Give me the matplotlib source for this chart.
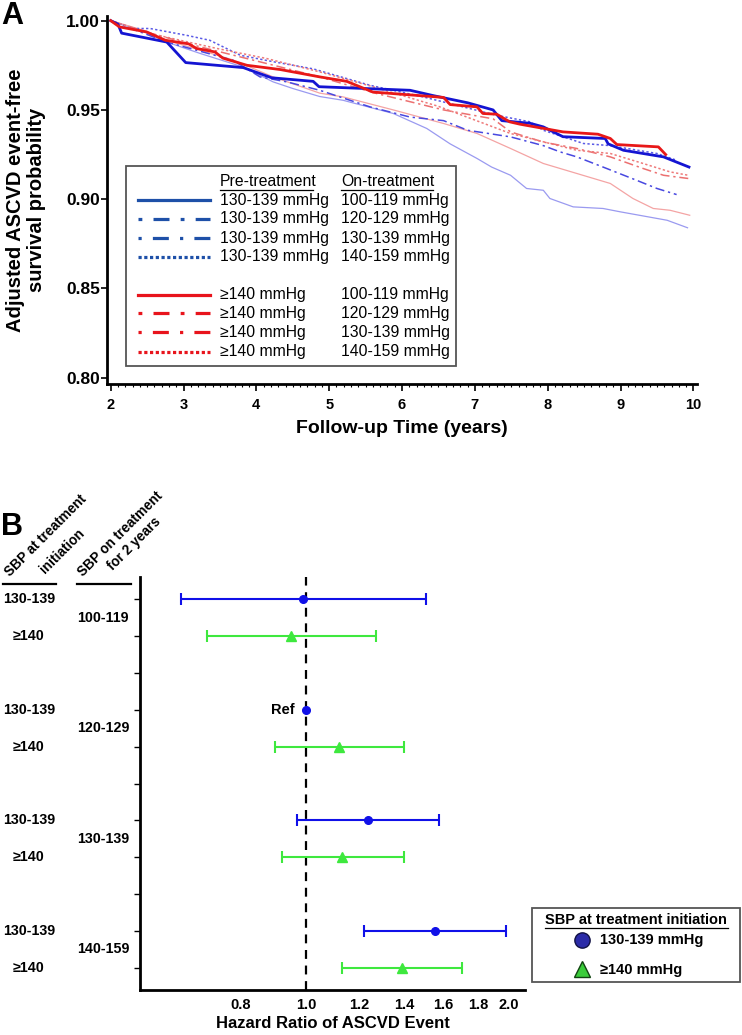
import numpy as np
import matplotlib
matplotlib.use("Agg")
import matplotlib.pyplot as plt
from matplotlib.lines import Line2D
from matplotlib.patches import Rectangle
from matplotlib.transforms import blended_transform_factory

plt.rcParams['font.family'] = ['Liberation Sans', 'DejaVu Sans']

# ---- panel A: adjusted survival curves (years, probability) ----
t_blue_100 = [2.0, 2.1, 2.15, 2.77, 3.03, 3.82, 4.21, 4.78, 4.86, 6.11, 6.43, 6.9, 7.25, 7.37, 7.76, 7.94, 8.21, 8.79, 8.83, 9.04, 9.59, 9.94]
s_blue_100 = [1.0, 0.998, 0.993, 0.988, 0.9765, 0.9737, 0.968, 0.966, 0.963, 0.961, 0.958, 0.954, 0.950, 0.944, 0.9425, 0.9405, 0.935, 0.934, 0.931, 0.9274, 0.9237, 0.918]
t_blue_120 = [2.0, 2.5, 2.77, 3.23, 3.82, 4.23, 4.5, 4.87, 5.19, 5.88, 6.34, 6.66, 7.03, 7.23, 7.49, 7.71, 7.94, 8.03, 8.35, 8.76, 9.0, 9.64, 9.92]
s_blue_120 = [1.0, 0.993, 0.988, 0.9816, 0.974, 0.9657, 0.962, 0.9575, 0.9554, 0.948, 0.9396, 0.931, 0.9228, 0.918, 0.9134, 0.906, 0.905, 0.9004, 0.8957, 0.8948, 0.8929, 0.8882, 0.884]
t_blue_130 = [2.0, 2.77, 3.68, 4.05, 4.42, 4.87, 5.56, 6.11, 6.57, 6.9, 7.49, 7.94, 8.17, 8.4, 8.76, 9.22, 9.5, 9.77]
s_blue_130 = [1.0, 0.988, 0.9778, 0.9685, 0.9657, 0.961, 0.9517, 0.946, 0.944, 0.9386, 0.9349, 0.930, 0.9265, 0.9237, 0.918, 0.9106, 0.906, 0.9026]
t_blue_140 = [2.0, 2.31, 2.54, 3.04, 3.36, 3.78, 4.23, 4.78, 5.56, 6.29, 7.3, 7.76, 7.94, 8.49, 8.86, 9.5, 9.77]
s_blue_140 = [1.0, 0.9956, 0.9956, 0.9918, 0.989, 0.9806, 0.977, 0.973, 0.9638, 0.9573, 0.947, 0.9433, 0.9386, 0.9312, 0.930, 0.9256, 0.9218]

t_red_100 = [2.0, 2.12, 2.49, 2.75, 3.07, 3.18, 3.43, 3.54, 3.87, 4.33, 4.87, 5.24, 5.6, 6.57, 6.66, 7.03, 7.11, 7.3, 7.48, 7.62, 8.21, 8.69, 8.86, 8.95, 9.52, 9.62]
s_red_100 = [1.0, 0.9965, 0.9937, 0.989, 0.987, 0.9844, 0.9825, 0.979, 0.975, 0.9726, 0.9685, 0.966, 0.960, 0.957, 0.953, 0.9517, 0.948, 0.9476, 0.9433, 0.942, 0.9377, 0.9364, 0.934, 0.9306, 0.9293, 0.925]
t_red_120 = [2.0, 2.5, 2.77, 3.68, 4.23, 4.87, 5.19, 5.88, 6.57, 7.03, 7.49, 7.94, 8.4, 8.86, 9.17, 9.45, 9.68, 9.95]
s_red_120 = [1.0, 0.994, 0.989, 0.978, 0.9685, 0.9594, 0.9573, 0.950, 0.9424, 0.9368, 0.9284, 0.920, 0.9144, 0.9088, 0.9004, 0.8948, 0.8938, 0.891]
t_red_130 = [2.0, 2.5, 3.23, 4.14, 4.87, 5.65, 6.57, 7.25, 7.49, 7.94, 8.4, 8.86, 9.31, 9.59, 9.93]
s_red_130 = [1.0, 0.9935, 0.9853, 0.976, 0.9685, 0.9592, 0.950, 0.945, 0.9377, 0.932, 0.9284, 0.9237, 0.9172, 0.9134, 0.9116]
t_red_140 = [2.0, 2.54, 3.46, 4.14, 4.87, 5.6, 6.5, 7.49, 8.4, 8.86, 9.31, 9.68, 9.93]
s_red_140 = [1.0, 0.9928, 0.9844, 0.9788, 0.9713, 0.963, 0.952, 0.9368, 0.9274, 0.9256, 0.920, 0.9153, 0.9134]

pre_labels = ["130-139 mmHg"] * 4 + ["\u2265140 mmHg"] * 4
on_labels = ["100-119 mmHg", "120-129 mmHg", "130-139 mmHg", "140-159 mmHg"] * 2

# ---- panel B: hazard ratios ----
on_groups = ["100-119", "120-129", "130-139", "140-159"]
blue_hr = [0.989, 1.0, 1.237, 1.553]
blue_lo = [0.652, np.nan, 0.969, 1.22]
blue_hi = [1.505, np.nan, 1.574, 1.979]
green_hr = [0.951, 1.12, 1.129, 1.388]
green_lo = [0.713, 0.90, 0.921, 1.131]
green_hi = [1.268, 1.396, 1.396, 1.703]

W, H = 742, 1035
def fx(x):
    return x / W
def fy(y):
    return 1 - y / H

fig = plt.figure(figsize=(W / 100, H / 100), dpi=100)

# ================= panel A =================
axA = fig.add_axes([fx(106.7), fy(384), fx(697) - fx(106.7), fy(16) - fy(384)])
curves = [
    (t_blue_120, s_blue_120, '#9a9af0', '-', 0.9),
    (t_red_120, s_red_120, '#f4a4a4', '-', 0.9),
    (t_blue_130, s_blue_130, '#4848e0', (0, (6, 2.5, 1.5, 2.5)), 1.1),
    (t_red_130, s_red_130, '#ec7070', (0, (6, 2.5, 1.5, 2.5)), 1.1),
    (t_blue_140, s_blue_140, '#5a5ae6', (0, (1.5, 1.5)), 1.1),
    (t_red_140, s_red_140, '#ee7a7a', (0, (1.5, 1.5)), 1.1),
    (t_blue_100, s_blue_100, '#1414d2', '-', 2.0),
    (t_red_100, s_red_100, '#e81818', '-', 2.0),
]
for t, s, c, ls, lw in curves:
    axA.plot(t, s, color=c, linestyle=ls, linewidth=lw)

axA.set_xlim(1.945, 10.05)
axA.set_ylim(0.7965, 1.0026)
axA.set_xticks(range(2, 11))
axA.set_xticklabels([str(i) for i in range(2, 11)], fontweight='bold', fontsize=10.5)
axA.set_xticks(np.arange(2, 10.01, 0.1), minor=True)
axA.set_yticks([0.80, 0.85, 0.90, 0.95, 1.00])
axA.set_yticklabels(["0.80", "0.85", "0.90", "0.95", "1.00"], fontweight='bold', fontsize=12.5)
axA.tick_params(axis='x', which='major', length=5, width=1.2, pad=5)
axA.tick_params(axis='x', which='minor', length=2.5, width=0.8)
axA.tick_params(axis='y', which='major', length=4, width=1.2, pad=1)
for sp in ['top', 'right']:
    axA.spines[sp].set_visible(False)
for sp in ['left', 'bottom']:
    axA.spines[sp].set_linewidth(2)
axA.set_xlabel("Follow-up Time (years)", fontweight='bold', fontsize=14, labelpad=6)
fig.text(fx(26), fy(200), "Adjusted ASCVD event-free\nsurvival probability", rotation=90,
         ha='center', va='center', fontweight='bold', fontsize=14.5, multialignment='center',
         linespacing=1.15)
fig.text(fx(1), fy(16), "A", fontweight='bold', fontsize=22, ha='left', va='center')

# legend A (drawn by hand to get the two text columns)
fig.add_artist(Rectangle((fx(126), fy(366)), fx(456) - fx(126), fy(166) - fy(366),
                         transform=fig.transFigure, fill=False, edgecolor='#555555', linewidth=1.3))
fig.text(fx(220), fy(182), "Pre-treatment", fontsize=11.3, ha='left', va='center')
fig.text(fx(341), fy(182), "On-treatment", fontsize=11.3, ha='left', va='center')
fig.add_artist(Line2D([fx(220), fx(313)], [fy(190), fy(190)], transform=fig.transFigure, color='black', lw=0.9))
fig.add_artist(Line2D([fx(341), fx(433)], [fy(190), fy(190)], transform=fig.transFigure, color='black', lw=0.9))
leg_rows = [200, 219, 238.3, 256.7, 295, 313.3, 332.3, 351.7]
leg_styles = ['-', (0, (1.2, 3.5, 5, 3.5)), (0, (1, 3.5, 5, 3.5)), (0, (1, 0.8))] * 2
leg_cols = ['#1e50a8'] * 4 + ['#e8141c'] * 4
for i, yrow in enumerate(leg_rows):
    fig.add_artist(Line2D([fx(138), fx(210)], [fy(yrow), fy(yrow)], transform=fig.transFigure,
                          color=leg_cols[i], linestyle=leg_styles[i], linewidth=2.3))
    fig.text(fx(220), fy(yrow), pre_labels[i], fontsize=11.3, ha='left', va='center')
    fig.text(fx(341), fy(yrow), on_labels[i], fontsize=11.3, ha='left', va='center')

# ================= panel B =================
axB = fig.add_axes([fx(140), fy(990), fx(525) - fx(140), fy(577) - fy(990)])
blue_rows = [0, 3, 6, 9]
green_rows = [1, 4, 7, 10]
blue_col = '#1010e8'
green_col = '#3ee83e'

axB.axvline(1.0, color='black', linestyle=(0, (4, 3)), linewidth=1.6, zorder=1)
for i in range(4):
    if np.isnan(blue_lo[i]):
        axB.plot([blue_hr[i]], [blue_rows[i]], 'o', color=blue_col, markersize=5.5, zorder=3)
        axB.annotate("Ref", (blue_hr[i], blue_rows[i]), xytext=(-11, 0), textcoords='offset pixels',
                     ha='right', va='center', fontweight='bold', fontsize=10.5)
    else:
        axB.errorbar([blue_hr[i]], [blue_rows[i]],
                     xerr=[[blue_hr[i] - blue_lo[i]], [blue_hi[i] - blue_hr[i]]],
                     fmt='o', color=blue_col, markersize=5.5, elinewidth=1.5, capsize=4.5, capthick=1.5, zorder=3)
    axB.errorbar([green_hr[i]], [green_rows[i]],
                 xerr=[[green_hr[i] - green_lo[i]], [green_hi[i] - green_hr[i]]],
                 fmt='^', color=green_col, markersize=6.5, elinewidth=1.5, capsize=4.5, capthick=1.5, zorder=3)

axB.set_xscale('log')
axB.set_xlim(0.5675, 2.112)
xt = [0.8, 1.0, 1.2, 1.4, 1.6, 1.8, 2.0]
axB.set_xticks(xt)
axB.set_xticklabels(["%.1f" % v for v in xt], fontweight='bold', fontsize=10.5)
axB.xaxis.set_minor_locator(matplotlib.ticker.NullLocator())
axB.tick_params(axis='x', length=0, pad=6)
axB.set_ylim(10.6, -0.6)
axB.set_yticks(range(11))
axB.set_yticklabels([])
axB.tick_params(axis='y', length=4, width=1, direction='out')
for sp in ['top', 'right']:
    axB.spines[sp].set_visible(False)
for sp in ['left', 'bottom']:
    axB.spines[sp].set_linewidth(2)
axB.set_xlabel("Hazard Ratio of ASCVD Event", fontweight='bold', fontsize=12, labelpad=3)

fig.text(fx(1), fy(527), "B", fontweight='bold', fontsize=22, ha='left', va='center')

# row labels left of the axis
tr = blended_transform_factory(fig.transFigure, axB.transData)
for i in range(4):
    fig.text(fx(29), blue_rows[i], "130-139", transform=tr, ha='center', va='center', fontweight='bold', fontsize=10.3)
    fig.text(fx(29), green_rows[i], "\u2265140", transform=tr, ha='center', va='center', fontweight='bold', fontsize=10.3)
    fig.text(fx(103), blue_rows[i] + 0.5, on_groups[i], transform=tr, ha='center', va='center', fontweight='bold', fontsize=10.3)

# rotated column headers
hdr = [("SBP at treatment", 10, 577), ("initiation", 45, 574),
       ("SBP on treatment", 83, 577), ("for 2 years", 113, 571)]
for txt, x0, y0 in hdr:
    fig.text(fx(x0), fy(y0), txt, rotation=45, rotation_mode='anchor', ha='left', va='baseline',
             fontweight='bold', fontsize=9.8)
fig.add_artist(Line2D([fx(3), fx(56)], [fy(584), fy(584)], transform=fig.transFigure, color='black', lw=1.6))
fig.add_artist(Line2D([fx(77), fx(131)], [fy(584), fy(584)], transform=fig.transFigure, color='black', lw=1.6))

# legend B
fig.add_artist(Rectangle((fx(531.7), fy(982)), fx(740) - fx(531.7), fy(908) - fy(982),
                         transform=fig.transFigure, fill=False, edgecolor='#555555', linewidth=1.3))
fig.text(fx(636), fy(920), "SBP at treatment initiation", ha='center', va='center', fontweight='bold', fontsize=10.5)
fig.add_artist(Line2D([fx(545), fx(728)], [fy(928), fy(928)], transform=fig.transFigure, color='black', lw=0.9))
fig.add_artist(Line2D([fx(582)], [fy(940)], transform=fig.transFigure, marker='o', markersize=11,
                      markerfacecolor='#2b2ba8', markeredgecolor='#111144', linestyle='none'))
fig.add_artist(Line2D([fx(582)], [fy(969)], transform=fig.transFigure, marker='^', markersize=12,
                      markerfacecolor='#3acc3a', markeredgecolor='#114411', linestyle='none'))
fig.text(fx(600), fy(940), "130-139 mmHg", ha='left', va='center', fontweight='bold', fontsize=10.5)
fig.text(fx(600), fy(970), "\u2265140 mmHg", ha='left', va='center', fontweight='bold', fontsize=10.5)

fig.savefig("out.png", dpi=100)
